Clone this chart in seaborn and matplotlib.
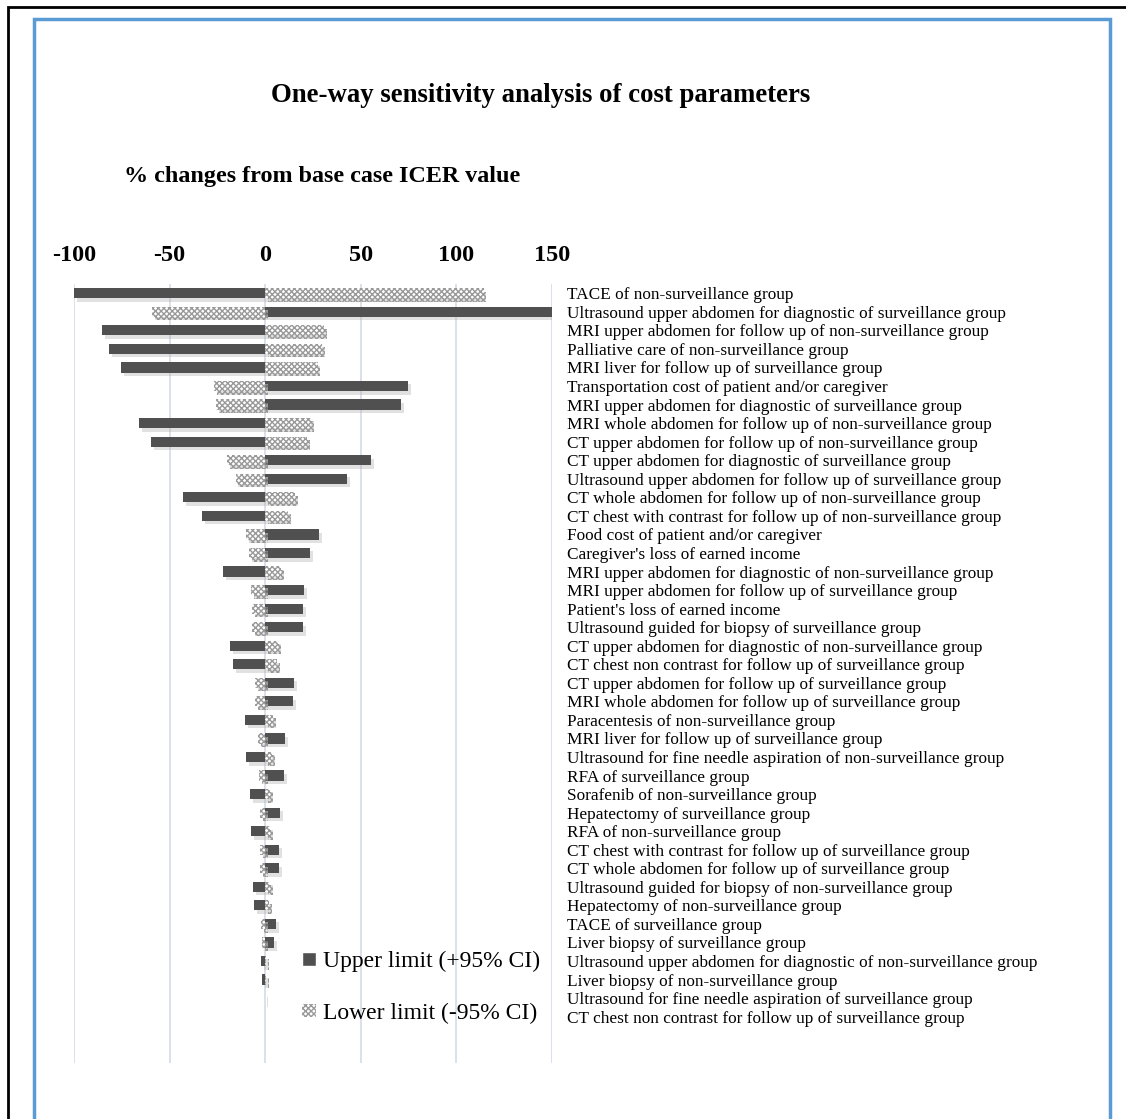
import pandas as pd
import seaborn as sns
import matplotlib.pyplot as plt
from matplotlib.patches import Patch, Rectangle
import matplotlib.patheffects as pe

# parameters, top to bottom as in the tornado chart
params = ['TACE of non-surveillance group',
          'Ultrasound upper abdomen for diagnostic of surveillance group',
          'MRI upper abdomen for follow up of non-surveillance group',
          'Palliative care of non-surveillance group',
          'MRI liver for follow up of surveillance group',
          'Transportation cost of patient and/or caregiver',
          'MRI upper abdomen for diagnostic of surveillance group',
          'MRI whole abdomen for follow up of non-surveillance group',
          'CT upper abdomen for follow up of non-surveillance group',
          'CT upper abdomen for diagnostic of surveillance group',
          'Ultrasound upper abdomen for follow up of surveillance group',
          'CT whole abdomen for follow up of non-surveillance group',
          'CT chest with contrast for follow up of non-surveillance group',
          'Food cost of patient and/or caregiver',
          "Caregiver's loss of earned income",
          'MRI upper abdomen for diagnostic of non-surveillance group',
          'MRI upper abdomen for follow up of surveillance group',
          "Patient's loss of earned income",
          'Ultrasound guided for biopsy of surveillance group',
          'CT upper abdomen for diagnostic of non-surveillance group',
          'CT chest non contrast for follow up of surveillance group',
          'CT upper abdomen for follow up of surveillance group',
          'MRI whole abdomen for follow up of surveillance group',
          'Paracentesis of non-surveillance group',
          'MRI liver for follow up of surveillance group',
          'Ultrasound for fine needle aspiration of non-surveillance group',
          'RFA of surveillance group',
          'Sorafenib of non-surveillance group',
          'Hepatectomy of surveillance group',
          'RFA of non-surveillance group',
          'CT chest with contrast for follow up of surveillance group',
          'CT whole abdomen for follow up of surveillance group',
          'Ultrasound guided for biopsy of non-surveillance group',
          'Hepatectomy of non-surveillance group',
          'TACE of surveillance group',
          'Liver biopsy of surveillance group',
          'Ultrasound upper abdomen for diagnostic of non-surveillance group',
          'Liver biopsy of non-surveillance group',
          'Ultrasound for fine needle aspiration of surveillance group',
          'CT chest non contrast for follow up of surveillance group']

# % change from base case ICER
upper = [-100, 151, -85.3, -81.7, -75.4, 74.9, 71.2, -66.0, -59.7, 55.5,
         42.9, -42.9, -33.0, 28.3, 23.6, -22.0, 20.4, 19.9, 19.9, -18.3,
         -16.8, 15.2, 14.7, -10.5, 10.5, -9.9, 9.9, -7.9, 7.7, -7.3,
         7.3, 7.3, -6.3, -5.8, 5.8, 4.7, -2.3, -1.7, -0.3, -0.2]
lower = [114.3, -59.2, 30.9, 29.7, 27.4, -26.9, -25.7, 23.9, 21.8, -19.9,
         -15.5, 15.5, 12.0, -9.9, -8.2, 8.2, -7.2, -7.0, -7.0, 6.6,
         6.1, -5.1, -5.1, 4.0, -3.5, 3.5, -3.3, 2.6, -2.6, 2.6,
         -2.6, -2.6, 2.4, 2.1, -2.1, -1.7, 0.4, 0.3, 0.1, 0.1]
xticks = [-100, -50, 0, 50, 100, 150]

up_lab = 'Upper limit (+95% CI)'
lo_lab = 'Lower limit (-95% CI)'

# labels repeat, so use a unique key per row
keys = ['r' + str(i) for i in range(len(params))]
df = pd.DataFrame({'row': keys * 2,
                   'limit': [up_lab] * len(keys) + [lo_lab] * len(keys),
                   'value': upper + lower})

sns.set_theme(style='white')
plt.rcParams['font.family'] = ['Liberation Serif', 'DejaVu Serif']
plt.rcParams['text.color'] = 'black'
plt.rcParams['xtick.color'] = 'black'
plt.rcParams['ytick.color'] = 'black'
plt.rcParams['hatch.linewidth'] = 1.0

fig = plt.figure(figsize=(11.26, 11.19), dpi=100)
ax = fig.add_axes([0.0657, 0.05, 0.4245, 0.6962])

sns.barplot(df, x='value', y='row', hue='limit', order=keys, hue_order=[up_lab, lo_lab],
            palette=['#505050', '#ffffff'], dodge=False, width=0.55, orient='h',
            saturation=1, legend=False, ax=ax)

shadow = [pe.SimplePatchShadow(offset=(2, -2.5), shadow_rgbFace='#aaaaaa', alpha=0.35), pe.Normal()]
for p in ax.containers[0]:
    p.set_path_effects(shadow)
    p.set_edgecolor('none')
for p in ax.containers[1]:
    p.set_hatch('xxxxxx')
    p.set_edgecolor('#999999')
    p.set_linewidth(0)
    p.set_path_effects(shadow)

ax.set_xlim(-100, 150)
ax.set_ylim(41.5, -0.5)
ax.set_xticks(xticks)
ax.set_xticklabels([str(t) for t in xticks], fontsize=17.5, fontweight='bold')
ax.xaxis.tick_top()
ax.yaxis.tick_right()
ax.set_yticks(range(len(params)))
ax.set_yticklabels(params, fontsize=12.4)
ax.tick_params(axis='x', length=0, pad=13)
ax.tick_params(axis='y', length=0, pad=11)
ax.set_xlabel('')
ax.set_ylabel('')
ax.grid(axis='x', color='#d9dee7', linewidth=1.3)
ax.set_axisbelow(True)
for s in ax.spines.values():
    s.set_visible(False)

fig.text(0.4805, 0.915, 'One-way sensitivity analysis of cost parameters',
         ha='center', va='center', fontsize=19.3, fontweight='bold')
fig.text(0.110, 0.8427, '% changes from base case ICER value',
         ha='left', va='center', fontsize=17.4, fontweight='bold')

handles = [Patch(facecolor='#505050', label=up_lab),
           Patch(facecolor='white', edgecolor='#999999', hatch='xxxxxx', linewidth=0, label=lo_lab)]
fig.legend(handles=handles, loc='upper left', bbox_to_anchor=(302 / 1126, 1 - 951 / 1119),
           frameon=False, fontsize=17, handlelength=0.6, handleheight=0.5,
           handletextpad=0.3, labelspacing=1.3, borderpad=0, borderaxespad=0)

# outer frames like the pasted Excel chart
fig.patches.append(Rectangle((8 / 1126, -0.1), 1.2, 0.1 + 1 - 7 / 1119, transform=fig.transFigure,
                             fill=False, edgecolor='black', linewidth=2))
fig.patches.append(Rectangle((34 / 1126, -0.1), (1110 - 34) / 1126, 0.1 + 1 - 19 / 1119,
                             transform=fig.transFigure, fill=False, edgecolor='#5b9bd5', linewidth=2.5))

fig.savefig('out.png', dpi=100)
